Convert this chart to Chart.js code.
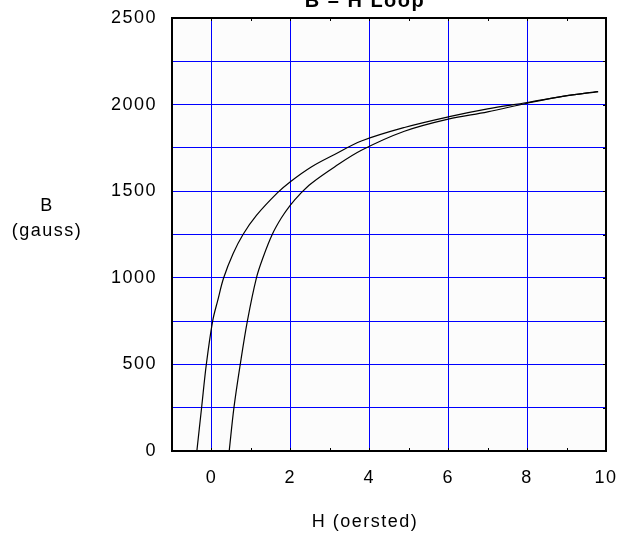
<!DOCTYPE html>
<html>
<head>
<meta charset="utf-8">
<script src="https://cdn.jsdelivr.net/npm/chart.js@4/dist/chart.umd.min.js"></script>
<style>
  html, body { margin: 0; padding: 0; background: #ffffff; }
  canvas { display: block; }
</style>
</head>
<body>
<canvas id="bhChart" width="627" height="537"></canvas>
<script>
// H (oersted) and B (gauss)
const upperH = [-0.37, -0.25, -0.13, 0.03, 0.16, 0.31, 0.55, 0.8, 1.14, 1.67, 2, 2.53, 3.12, 3.8, 4.89, 6, 7, 8, 8.9, 9.8];
const upperB = [0, 250, 500, 750, 870, 1000, 1140, 1250, 1360, 1490, 1555, 1640, 1712, 1790, 1868, 1929, 1975, 2012, 2048, 2075];
const lowerH = [0.45, 0.57, 0.73, 0.91, 1.14, 1.31, 1.54, 1.77, 2, 2.25, 2.53, 3.12, 3.8, 4.89, 6, 7, 8, 8.9, 9.8];
const lowerB = [0, 250, 500, 750, 1000, 1119, 1250, 1345, 1420, 1485, 1545, 1640, 1736, 1846, 1916, 1958, 2008, 2048, 2075];

const chartTitle = 'B \u2013 H Loop';
const xTitle = 'H (oersted)';
const yTitle = ['B', '(gauss)'];

const FONT = '"Liberation Sans", Arial, sans-serif';
const GRID = '#0000ff';

function toPoints(xs, ys) {
    return xs.map((x, i) => ({ x: x, y: ys[i] }));
}

// plot background, frame and the free-standing texts
const framePlugin = {
    id: 'frame',
    beforeDraw(chart) {
        const { ctx, chartArea: a } = chart;
        // the reference text is a little spread out
        ctx.letterSpacing = '1.5px';
        ctx.save();
        ctx.fillStyle = '#fcfcfc';
        ctx.fillRect(a.left, a.top, a.right - a.left, a.bottom - a.top);
        ctx.restore();
    },
    afterDraw(chart) {
        const { ctx, chartArea: a } = chart;
        ctx.save();
        ctx.strokeStyle = '#000';
        ctx.lineWidth = 2;
        ctx.strokeRect(a.left, a.top, a.right - a.left, a.bottom - a.top);

        // small inside ticks on the frame
        ctx.lineWidth = 1;
        const xs = chart.scales.x, ys = chart.scales.y;
        for (let v = 0; v <= 9; v++) {
            const px = Math.round(xs.getPixelForValue(v)) + 0.5;
            ctx.beginPath();
            ctx.moveTo(px, a.bottom); ctx.lineTo(px, a.bottom - 3);
            ctx.moveTo(px, a.top); ctx.lineTo(px, a.top + 3);
            ctx.stroke();
        }
        for (let v = 250; v < 2500; v += 250) {
            const py = Math.round(ys.getPixelForValue(v)) + 0.5;
            ctx.beginPath();
            ctx.moveTo(a.right, py); ctx.lineTo(a.right - 3, py);
            ctx.stroke();
        }

        ctx.fillStyle = '#000';
        ctx.textAlign = 'center';
        ctx.textBaseline = 'alphabetic';
        ctx.font = 'bold 20px ' + FONT;
        ctx.fillText(chartTitle, 365, 7);
        ctx.font = '18px ' + FONT;
        ctx.fillText(xTitle, 365, 527);
        ctx.fillText(yTitle[0], 47, 211);
        ctx.fillText(yTitle[1], 47, 236);
        ctx.restore();
    }
};

new Chart(document.getElementById('bhChart'), {
    type: 'scatter',
    data: {
        datasets: [
            {
                label: 'upper',
                data: toPoints(upperH, upperB),
                showLine: true,
                borderColor: '#000',
                borderWidth: 1.2,
                pointRadius: 0,
                tension: 0.35
            },
            {
                label: 'lower',
                data: toPoints(lowerH, lowerB),
                showLine: true,
                borderColor: '#000',
                borderWidth: 1.2,
                pointRadius: 0,
                tension: 0.35
            }
        ]
    },
    options: {
        responsive: false,
        animation: false,
        layout: { padding: { top: 18, right: 21, left: 0, bottom: 0 } },
        plugins: {
            legend: { display: false },
            title: { display: false },
            tooltip: { enabled: false }
        },
        scales: {
            x: {
                type: 'linear',
                min: -1,
                max: 10,
                afterFit(scale) {
                    scale.height = 86;
                    scale.paddingLeft = 0;
                    scale.paddingRight = 0;
                },
                border: { display: false },
                grid: {
                    drawTicks: false,
                    color: c => (c.tick.value >= 0 && c.tick.value <= 8) ? GRID : 'rgba(0,0,0,0)'
                },
                ticks: {
                    stepSize: 2,
                    padding: 16,
                    color: '#000',
                    font: { family: FONT, size: 18 },
                    maxRotation: 0,
                    autoSkip: false,
                    callback: v => (v >= 0) ? v : ''
                }
            },
            y: {
                type: 'linear',
                min: 0,
                max: 2500,
                afterFit(scale) {
                    scale.width = 172;
                    scale.paddingTop = 0;
                    scale.paddingBottom = 0;
                },
                border: { display: false },
                grid: {
                    drawTicks: false,
                    color: c => (c.tick.value > 0 && c.tick.value < 2500) ? GRID : 'rgba(0,0,0,0)'
                },
                ticks: {
                    stepSize: 250,
                    padding: 15,
                    color: '#000',
                    font: { family: FONT, size: 18 },
                    autoSkip: false,
                    callback: v => (v % 500 === 0) ? v : ''
                }
            }
        }
    },
    plugins: [framePlugin]
});
</script>
</body>
</html>
